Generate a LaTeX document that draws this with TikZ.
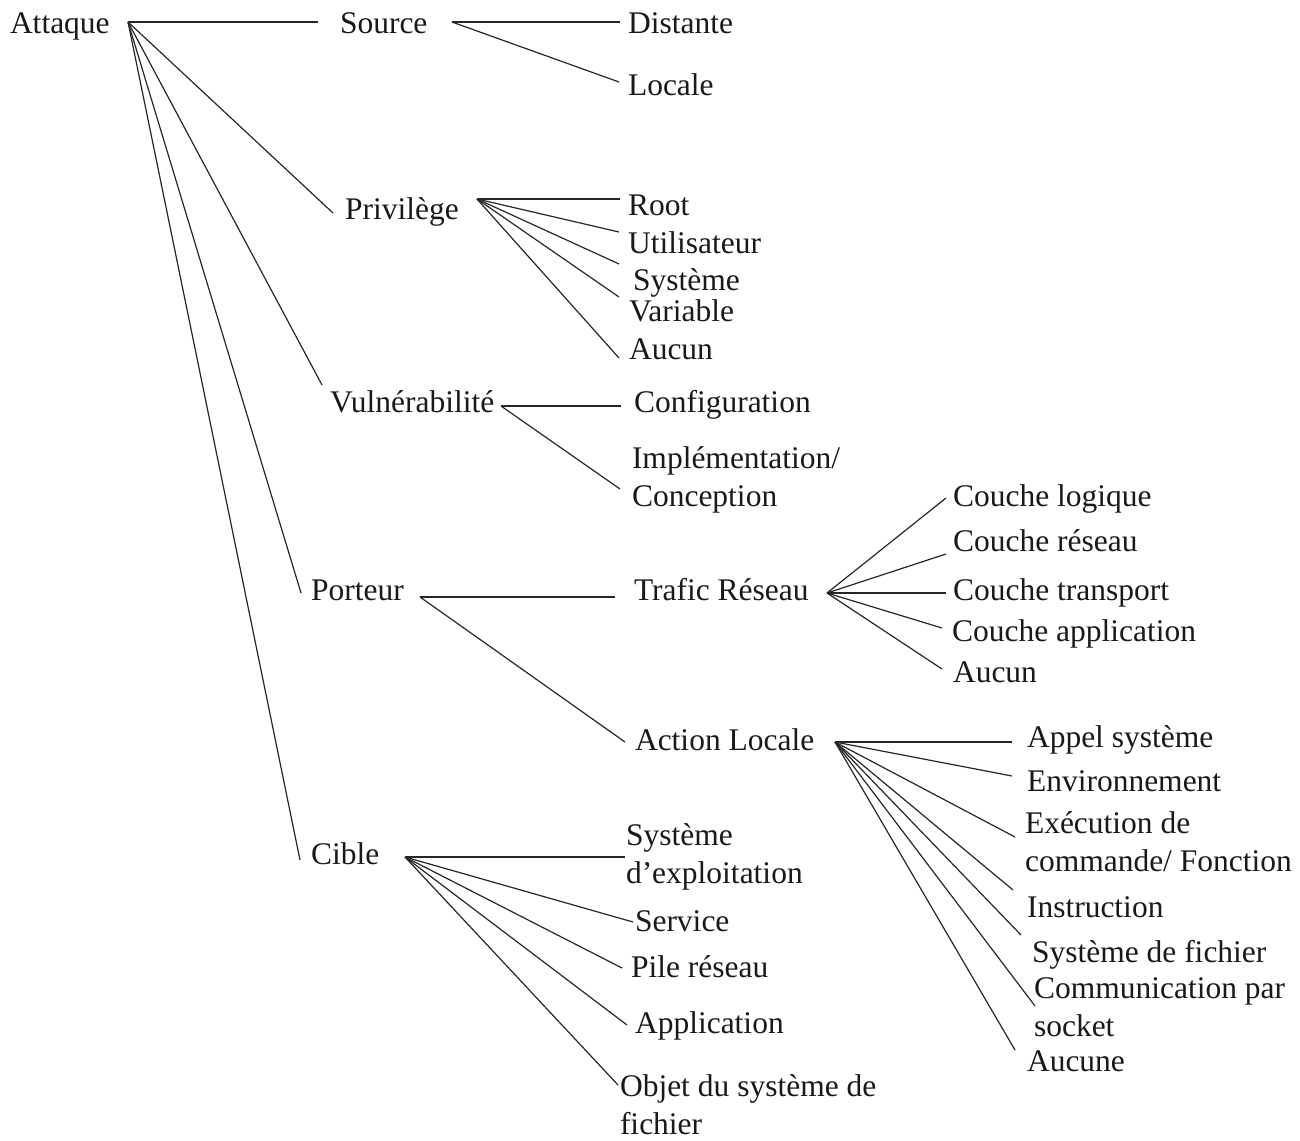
\documentclass[tikz,border=0pt]{standalone}
\usepackage{fontspec}
\setmainfont{Liberation Serif}
\begin{document}
\begin{tikzpicture}[x=1pt,y=-1pt,
  lbl/.style={anchor=base west,inner sep=0pt,outer sep=0pt,align=left,
    font=\fontsize{31.5}{37.5}\selectfont,text=black!90},
  edge/.style={draw=black!85,line width=1.2pt}]
\useasboundingbox (0,0) rectangle (1300,1140);
% labels (multi-line labels are placed by the baseline of their last line)
\node[lbl] (att) at (10,34) {Attaque};
\node[lbl] (src) at (340,34) {Source};
\node[lbl] (dist) at (628,34) {Distante};
\node[lbl] (loc) at (628,95) {Locale};
\node[lbl] (priv) at (345,219) {Privilège};
\node[lbl] (root) at (628,215) {Root};
\node[lbl] (util) at (628,253) {Utilisateur};
\node[lbl] (sys) at (633,290) {Système};
\node[lbl] (var) at (629,321) {Variable};
\node[lbl] (auc) at (629,359) {Aucun};
\node[lbl] (vul) at (330,412) {Vulnérabilité};
\node[lbl] (conf) at (634,412) {Configuration};
\node[lbl] (impl) at (632,506) {Implémentation/\\Conception};
\node[lbl] (port) at (311,600) {Porteur};
\node[lbl] (traf) at (634,600) {Trafic Réseau};
\node[lbl] (clog) at (953,506) {Couche logique};
\node[lbl] (cres) at (953,551) {Couche réseau};
\node[lbl] (ctra) at (953,600) {Couche transport};
\node[lbl] (capp) at (952,641) {Couche application};
\node[lbl] (cauc) at (953,682) {Aucun};
\node[lbl] (act) at (635,750) {Action Locale};
\node[lbl] (appel) at (1027,747) {Appel système};
\node[lbl] (env) at (1027,791) {Environnement};
\node[lbl] (exe) at (1025,871) {Exécution de\\commande/ Fonction};
\node[lbl] (instr) at (1027,917) {Instruction};
\node[lbl] (sysf) at (1032,962) {Système de fichier};
\node[lbl] (comm) at (1034,1036) {Communication par\\socket};
\node[lbl] (aucune) at (1027,1071) {Aucune};
\node[lbl] (cib) at (311,864) {Cible};
\node[lbl] (syse) at (626,883) {Système\\d’exploitation};
\node[lbl] (serv) at (635,931) {Service};
\node[lbl] (pile) at (631,977) {Pile réseau};
\node[lbl] (appl) at (635,1033) {Application};
\node[lbl] (obj) at (620,1134) {Objet du système de\\fichier};
% hubs
\coordinate (hA) at (128,22);
\coordinate (hS) at (452,22);
\coordinate (hP) at (477,199);
\coordinate (hV) at (501,406);
\coordinate (hPo) at (420,597);
\coordinate (hT) at (827,593);
\coordinate (hAL) at (835,742);
\coordinate (hC) at (405,857);
% line ends
\coordinate (eSrc) at (318,22);
\coordinate (ePriv) at (333,213);
\coordinate (eVul) at (322,385);
\coordinate (ePort) at (301,593);
\coordinate (eCib) at (300,860);
\coordinate (eDist) at (620,22);
\coordinate (eLoc) at (619,82);
\coordinate (eRoot) at (620,199);
\coordinate (eUtil) at (619,232);
\coordinate (eSys) at (619,264);
\coordinate (eVar) at (619,297);
\coordinate (eAuc) at (619,358);
\coordinate (eConf) at (621,406);
\coordinate (eImpl) at (620,489);
\coordinate (eTraf) at (615,597);
\coordinate (eAct) at (625,742);
\coordinate (eClog) at (946,498);
\coordinate (eCres) at (946,554);
\coordinate (eCtra) at (946,593);
\coordinate (eCapp) at (942,628);
\coordinate (eCauc) at (942,669);
\coordinate (eAppel) at (1012,742);
\coordinate (eEnv) at (1012,776);
\coordinate (eExe) at (1015,837);
\coordinate (eInstr) at (1013,890);
\coordinate (eSysf) at (1021,935);
\coordinate (eComm) at (1035,1006);
\coordinate (eAucune) at (1015,1050);
\coordinate (eSyse) at (625,857);
\coordinate (eServ) at (633,922);
\coordinate (ePile) at (622,968);
\coordinate (eAppl) at (627,1025);
\coordinate (eObj) at (618,1085);
% connectors
\foreach \e in {eSrc,ePriv,eVul,ePort,eCib} \draw[edge] (hA) -- (\e);
\foreach \e in {eDist,eLoc} \draw[edge] (hS) -- (\e);
\foreach \e in {eRoot,eUtil,eSys,eVar,eAuc} \draw[edge] (hP) -- (\e);
\foreach \e in {eConf,eImpl} \draw[edge] (hV) -- (\e);
\foreach \e in {eTraf,eAct} \draw[edge] (hPo) -- (\e);
\foreach \e in {eClog,eCres,eCtra,eCapp,eCauc} \draw[edge] (hT) -- (\e);
\foreach \e in {eAppel,eEnv,eExe,eInstr,eSysf,eComm,eAucune} \draw[edge] (hAL) -- (\e);
\foreach \e in {eSyse,eServ,ePile,eAppl,eObj} \draw[edge] (hC) -- (\e);
\end{tikzpicture}
\end{document}
